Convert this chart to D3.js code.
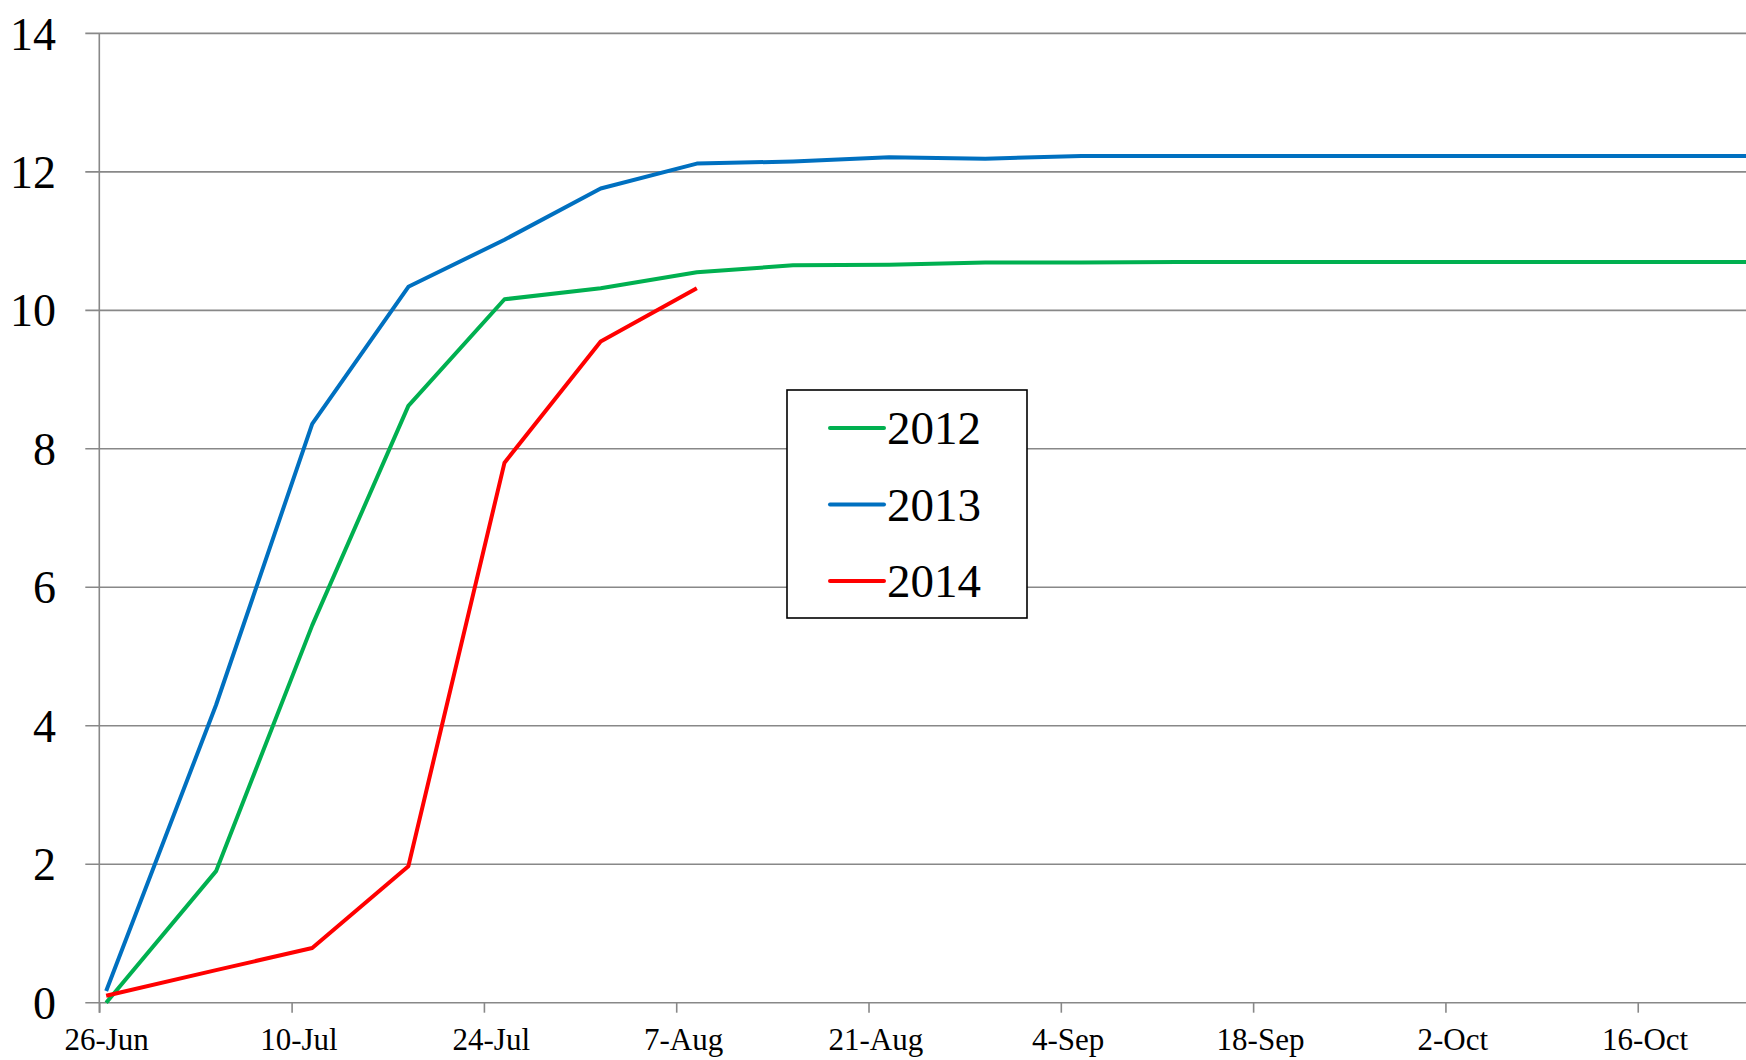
<!DOCTYPE html>
<html>
<head>
<meta charset="utf-8">
<script src="https://cdn.jsdelivr.net/npm/d3@7"></script>
<style>
  body { margin: 0; background: #fff; }
  svg text { font-family: "Liberation Serif", "Times New Roman", serif; fill: #000; }
</style>
</head>
<body>
<div id="chart"></div>
<script>
// Observation dates (plotted on a common 2014 calendar)
const dates = ['2014-06-26', '2014-07-04', '2014-07-11', '2014-07-18', '2014-07-25',
  '2014-08-01', '2014-08-08', '2014-08-15', '2014-08-22', '2014-08-29', '2014-09-05',
  '2014-09-12', '2014-09-19', '2014-09-26', '2014-10-03', '2014-10-10', '2014-10-17', '2014-10-24'];

const values2012 = [0, 1.9, 5.45, 8.62, 10.16, 10.32, 10.55, 10.65, 10.66, 10.69, 10.69,
  10.7, 10.7, 10.7, 10.7, 10.7, 10.7, 10.7];
const values2013 = [0.17, 4.3, 8.36, 10.34, 11.02, 11.76, 12.12, 12.15, 12.21, 12.19, 12.23,
  12.23, 12.23, 12.23, 12.23, 12.23, 12.23, 12.23];
const values2014 = [0.1, 0.47, 0.79, 1.97, 7.8, 9.55, 10.32];

const seriesNames = ['2012', '2013', '2014'];
const seriesColours = ['#00B050', '#0070C0', '#FF0000'];
const yTicks = [0, 2, 4, 6, 8, 10, 12, 14];

(function () {
  const parse = d3.utcParse('%Y-%m-%d');
  const W = 1746, H = 1060;
  const plotLeft = 99.3, plotTop = 33.4, plotBottom = 1002.7;
  const dayPx = 13.736;

  const start = parse('2014-06-26');
  const end = d3.utcDay.offset(start, 126);

  const x = d3.scaleUtc().domain([start, end]).range([plotLeft, plotLeft + 126 * dayPx]);
  const y = d3.scaleLinear().domain([0, 14]).range([plotBottom, plotTop]);
  const halfDay = (x(d3.utcDay.offset(start, 1)) - x(start)) / 2;

  const svg = d3.select('#chart').append('svg')
    .attr('width', W)
    .attr('height', H);

  // Horizontal gridlines (with the left tick stubs)
  svg.append('g')
    .selectAll('line')
    .data(yTicks)
    .join('line')
    .attr('x1', plotLeft - 14)
    .attr('x2', W)
    .attr('y1', d => y(d))
    .attr('y2', d => y(d))
    .attr('stroke', '#888')
    .attr('stroke-width', 1.6);

  // Y axis line and labels
  svg.append('line')
    .attr('x1', plotLeft).attr('x2', plotLeft)
    .attr('y1', y(14)).attr('y2', plotBottom + 10)
    .attr('stroke', '#888')
    .attr('stroke-width', 1.6);

  svg.append('g')
    .selectAll('text')
    .data(yTicks)
    .join('text')
    .attr('x', 56)
    .attr('y', d => y(d))
    .attr('dy', '0.35em')
    .attr('text-anchor', 'end')
    .style('font-size', '46px')
    .text(d => d);

  // X axis: ticks every 14 days, labels centred on the day
  const xTicks = d3.utcDay.range(start, end, 14);
  const xAxis = svg.append('g')
    .attr('transform', `translate(0, ${plotBottom})`)
    .call(d3.axisBottom(x)
      .tickValues(xTicks)
      .tickSize(10)
      .tickFormat(d3.utcFormat('%-d-%b')));

  xAxis.select('.domain').remove();
  xAxis.selectAll('.tick line')
    .attr('stroke', '#888')
    .attr('stroke-width', 1.6);
  xAxis.selectAll('.tick text')
    .attr('x', halfDay)
    .attr('y', 47)
    .attr('dy', 0)
    .style('font-size', '31px')
    .style('font-family', '"Liberation Serif", "Times New Roman", serif')
    .attr('fill', '#000');

  // Lines
  const allValues = [values2012, values2013, values2014];
  const line = d3.line()
    .x(d => x(d.date) + halfDay)
    .y(d => y(d.value));

  allValues.forEach((vals, i) => {
    const pts = vals.map((v, j) => ({ date: parse(dates[j]), value: v }));
    svg.append('path')
      .datum(pts)
      .attr('fill', 'none')
      .attr('stroke', seriesColours[i])
      .attr('stroke-width', 4)
      .attr('stroke-linejoin', 'round')
      .attr('d', line);
  });

  // Legend
  const legend = svg.append('g').attr('transform', 'translate(787, 390)');
  legend.append('rect')
    .attr('width', 240)
    .attr('height', 228)
    .attr('fill', '#fff')
    .attr('stroke', '#000')
    .attr('stroke-width', 1.6);

  seriesNames.forEach((name, i) => {
    const ly = 38 + i * 76.5;
    legend.append('line')
      .attr('x1', 43).attr('x2', 97)
      .attr('y1', ly).attr('y2', ly)
      .attr('stroke', seriesColours[i])
      .attr('stroke-width', 4)
      .attr('stroke-linecap', 'round');
    legend.append('text')
      .attr('x', 100)
      .attr('y', ly)
      .attr('dy', '0.35em')
      .style('font-size', '47px')
      .text(name);
  });
})();
</script>
</body>
</html>
